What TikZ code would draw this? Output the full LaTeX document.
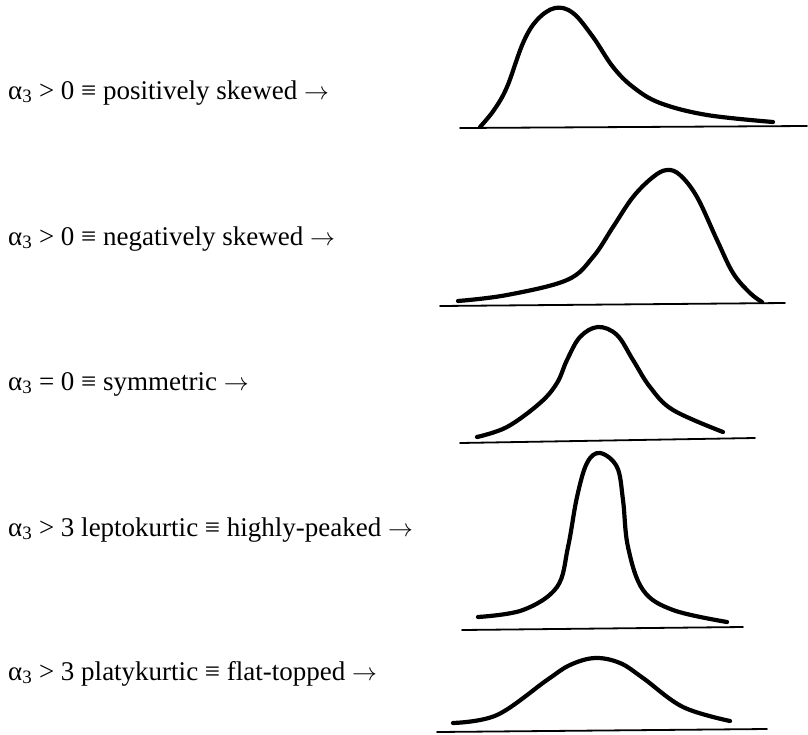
\documentclass[tikz,border=0pt]{standalone}
\usepackage{fontspec}
\setmainfont{Liberation Serif}
\usepackage{tikz}

\begin{document}
\begin{tikzpicture}[x=1pt, y=-1pt,
          lbl/.style={anchor=base west, inner sep=0pt, font=\fontsize{27}{31}\selectfont},
          curve/.style={line width=4.2pt, line cap=round, line join=round},
          axis/.style={line width=1.8pt, line cap=round}
        ]
        \useasboundingbox (0,0) rectangle (808,734);

        \node[lbl] (pos)   at (8, 99)  {α\textsubscript{3} > 0 ≡ positively skewed $\rightarrow$};
        \node[lbl] (neg)   at (8, 245) {α\textsubscript{3} > 0 ≡ negatively skewed $\rightarrow$};
        \node[lbl] (sym)   at (8, 390) {α\textsubscript{3} = 0 ≡ symmetric $\rightarrow$};
        \node[lbl] (lepto) at (8, 536) {α\textsubscript{3} > 3 leptokurtic ≡ highly-peaked $\rightarrow$};
        \node[lbl] (platy) at (8, 680) {α\textsubscript{3} > 3 platykurtic ≡ flat-topped $\rightarrow$};

        % base lines
        \foreach \xa/\ya/\xb/\yb in {460/128/807/126, 440/306/785/303, 460/443/755/438,
                                     462/630/743/627, 437/732/767/729} {
          \draw[axis] (\xa,\ya) -- (\xb,\yb);
        }

        % positively skewed
        \draw[curve] plot[smooth, tension=0.6] coordinates {(480,127) (494,110) (507,87) (523,43)
              (537,20) (555,8) (573,13) (593,37) (613,67) (633,87) (660,103) (707,115) (773,122)};
        % negatively skewed
        \draw[curve] plot[smooth, tension=0.6] coordinates {(458,301) (507,295) (567,280)
              (593,257) (613,227) (633,197) (653,177) (667,170) (680,175) (697,197) (717,240)
              (733,273) (750,293) (762,302)};
        % symmetric
        \draw[curve] plot[smooth, tension=0.6] coordinates {(477,437) (507,427) (540,403)
              (557,383) (567,360) (580,337) (598,327) (617,335) (633,360) (650,387) (673,410)
              (723,432)};
        % leptokurtic
        \draw[curve] plot[smooth, tension=0.6] coordinates {(478,617) (523,610) (557,587)
              (568,547) (577,497) (587,463) (600,453) (617,467) (623,500) (628,547) (643,590)
              (673,610) (727,622)};
        % platykurtic
        \draw[curve] plot[smooth, tension=0.6] coordinates {(453,723) (497,715) (547,680)
              (570,665) (595,658) (620,663) (643,678) (683,707) (730,721)};
      \end{tikzpicture}
\end{document}
